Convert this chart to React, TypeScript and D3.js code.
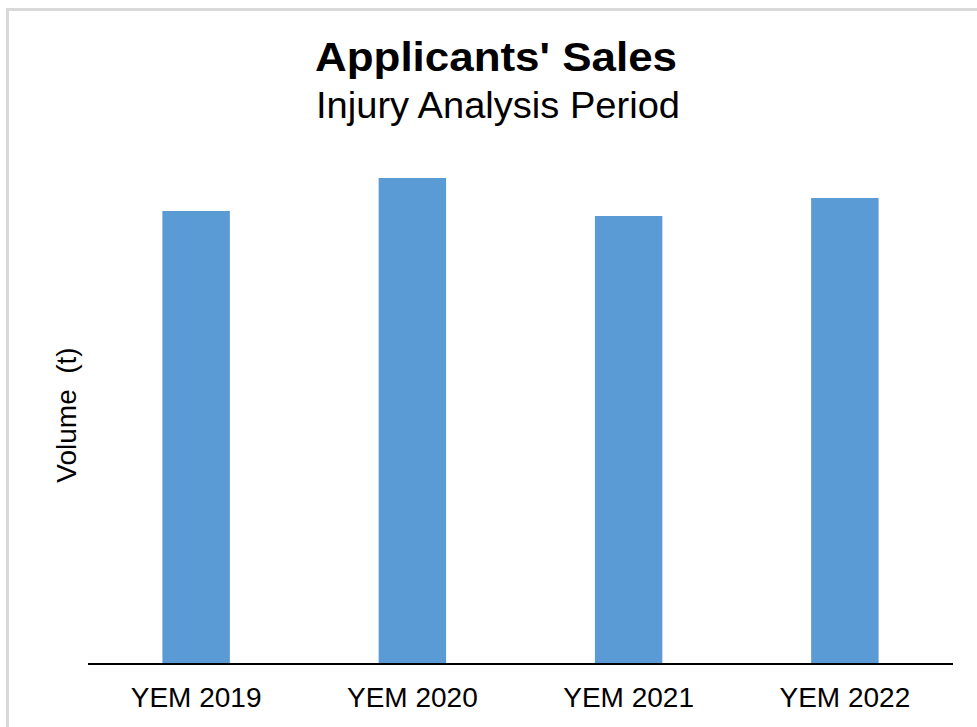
import * as d3 from "d3";

const categories = ["YEM 2019", "YEM 2020", "YEM 2021", "YEM 2022"];
const volumes = [452, 485, 447, 465];
const title = "Applicants' Sales";
const subtitle = "Injury Analysis Period";
const yLabel = "Volume  (t)";

const W = 977;
const H = 727;
const font = "'Liberation Sans', Arial, sans-serif";

export default function App() {
  const x = d3
    .scaleBand<string>()
    .domain(categories)
    .range([88, 953])
    .paddingInner(0.688)
    .paddingOuter(0.344);

  const y = d3.scaleLinear().domain([0, 500]).range([663, 163]);

  return (
    <svg
      width={W}
      height={H}
      style={{ position: "absolute", left: 0, top: 0, display: "block", background: "#fff" }}
    >
      <rect x={7.5} y={9.5} width={1000} height={800} fill="#fff" stroke="#d9d9d9" strokeWidth={3} />

      <text
        x={496}
        y={71}
        textAnchor="middle"
        fontFamily={font}
        fontWeight="bold"
        fontSize={40}
        textLength={362}
        lengthAdjust="spacingAndGlyphs"
        fill="#000"
      >
        {title}
      </text>
      <text
        x={498}
        y={118}
        textAnchor="middle"
        fontFamily={font}
        fontSize={36}
        textLength={364}
        lengthAdjust="spacingAndGlyphs"
        fill="#000"
      >
        {subtitle}
      </text>

      {categories.map((c, i) => (
        <rect
          key={c}
          x={x(c)}
          y={y(volumes[i])}
          width={x.bandwidth()}
          height={y(0) - y(volumes[i])}
          fill="#5b9bd5"
        />
      ))}

      <line x1={88} x2={953} y1={y(0) + 1} y2={y(0) + 1} stroke="#000" strokeWidth={2} />

      {categories.map((c) => (
        <text
          key={c}
          x={(x(c) ?? 0) + x.bandwidth() / 2}
          y={707}
          textAnchor="middle"
          fontFamily={font}
          fontSize={28}
          fill="#000"
        >
          {c}
        </text>
      ))}

      <text
        transform="translate(76,415) rotate(-90)"
        textAnchor="middle"
        fontFamily={font}
        fontSize={28}
        fill="#000"
        style={{ whiteSpace: "pre" }}
      >
        {yLabel}
      </text>
    </svg>
  );
}
